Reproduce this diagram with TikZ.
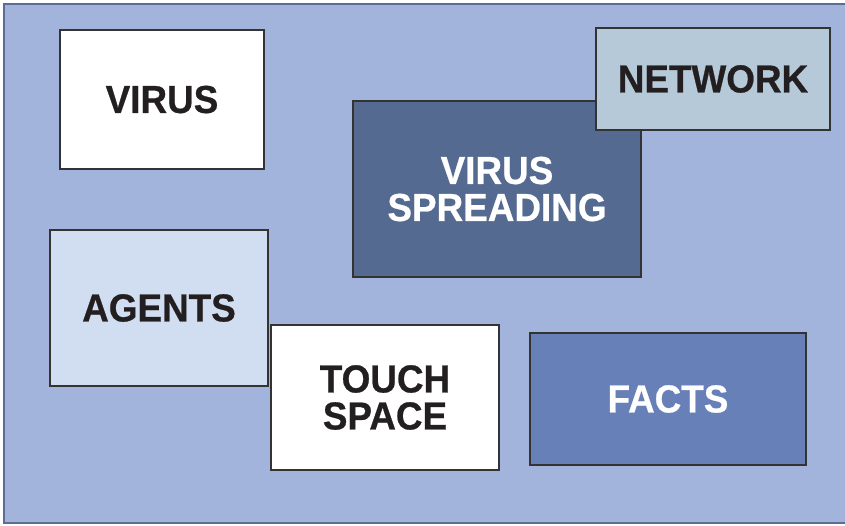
\documentclass[tikz,border=0pt]{standalone}
\usepackage{fontspec}
\setmainfont{Liberation Sans}
\newfontfamily\cardfont[FakeStretch=0.945, FakeBold=0.6]{Liberation Sans Bold}
\definecolor{bgblue}{HTML}{A2B4DC}
\definecolor{bgedge}{HTML}{5B6D94}
\definecolor{spreadblue}{HTML}{556A90}
\definecolor{netblue}{HTML}{B6C9D8}
\definecolor{agentblue}{HTML}{D1DDF0}
\definecolor{factblue}{HTML}{6780B8}
\definecolor{inkdark}{HTML}{231F20}
\definecolor{boxedge}{HTML}{333333}
\tikzset{
  card/.style={draw=boxedge, line width=1.6pt, rectangle, inner sep=0pt, outer sep=0pt,
    align=center, font=\fontsize{39}{37}\selectfont\cardfont, text=inkdark},
  lighttext/.style={text=white}
}
\begin{document}
\begin{tikzpicture}[x=1pt,y=-1pt]
\useasboundingbox (0,0) rectangle (845,525);
\draw[fill=bgblue, draw=bgedge, line width=1.2pt] (4,4) rectangle (846,523);
\node[card, fill=white, minimum width=204pt, minimum height=139pt] (virus) at (162,99.5) {VIRUS};
\node[card, fill=spreadblue, lighttext, minimum width=288pt, minimum height=176pt] (spread) at (497,189) {VIRUS\\SPREADING};
\node[card, fill=netblue, minimum width=234pt, minimum height=102pt] (network) at (713,79) {NETWORK};
\node[card, fill=agentblue, minimum width=218pt, minimum height=156pt] (agents) at (159,308) {AGENTS};
\node[card, fill=white, minimum width=228pt, minimum height=145pt] (touch) at (385,397.5) {TOUCH\\SPACE};
\node[card, fill=factblue, lighttext, minimum width=276pt, minimum height=132pt] (facts) at (668,399) {FACTS};
\end{tikzpicture}
\end{document}
